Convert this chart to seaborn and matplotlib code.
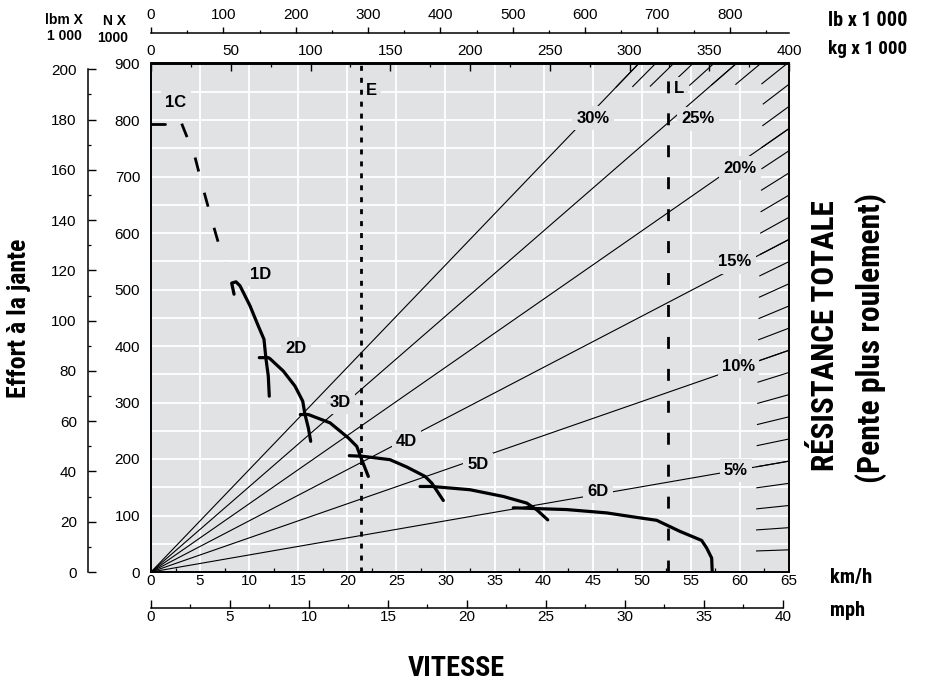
import os
import numpy as np
import pandas as pd
import matplotlib
matplotlib.use("Agg")
import matplotlib.pyplot as plt
from matplotlib.ticker import MultipleLocator
from matplotlib import font_manager
import seaborn as sns

# ---------------- data ----------------
# gear curves: speed in km/h, rimpull effort in kN
speed_1c_tick = [0.0, 1.43]
effort_1c_tick = [793.5, 793.5]
speed_1c = [3.13, 4.48, 5.27, 6.18, 7.10, 7.57]
effort_1c = [793.5, 734.4, 681.2, 623.6, 568.6, 548.0]
speed_1d = [8.46, 8.22, 8.66, 9.07, 10.09, 10.93, 11.51, 11.72, 11.95, 12.05]
effort_1d = [491.7, 511.3, 513.6, 506.5, 471.0, 435.5, 411.9, 376.4, 346.7, 311.2]
speed_2d = [11.03, 11.95, 12.12, 13.48, 14.67, 15.46, 15.69, 16.03, 16.27]
effort_2d = [379.4, 379.4, 377.6, 355.6, 329.0, 302.3, 278.7, 255.1, 231.3]
speed_3d = [15.21, 16.03, 18.24, 20.10, 20.96, 21.47, 22.14]
effort_3d = [278.7, 278.7, 264.0, 237.4, 222.4, 198.8, 169.2]
speed_4d = [20.20, 21.63, 24.35, 26.05, 27.92, 28.60, 29.78]
effort_4d = [205.9, 204.7, 198.8, 185.9, 169.2, 157.5, 126.6]
speed_5d = [27.41, 28.60, 32.50, 35.89, 38.28, 39.30, 40.42]
effort_5d = [151.4, 151.4, 145.6, 133.7, 122.0, 110.1, 92.3]
speed_6d = [36.91, 42.35, 46.43, 49.14, 51.52, 53.89, 56.10, 56.61, 57.12, 57.18]
effort_6d = [113.6, 110.5, 104.6, 97.5, 91.5, 71.9, 55.9, 42.5, 24.7, 0.0]

gear_names = ["1C", "1D", "2D", "3D", "4D", "5D", "6D"]

# total resistance (grade + rolling) lines, percent
grade_labels = [5, 10, 15, 20, 25, 30]
hash_grades = list(range(1, 31))

# marker lines (km/h)
speed_e = 21.35
speed_l = 52.7

# axis ticks
kmh_ticks = list(range(0, 66, 5))
mph_ticks = list(range(0, 41, 5))
kn_ticks = list(range(0, 901, 100))
klbf_ticks = list(range(0, 201, 20))
kg_ticks = list(range(0, 401, 50))
lb_ticks = list(range(0, 801, 100))

# ---------------- style ----------------
sns.set_theme(style="ticks")
names = {f.name for f in font_manager.fontManager.ttflist}
REG = "Liberation Sans" if "Liberation Sans" in names else "DejaVu Sans"
plt.rcParams["font.family"] = [REG, "DejaVu Sans"]
for key in ["text.color", "axes.labelcolor", "xtick.color", "ytick.color",
            "axes.edgecolor"]:
    plt.rcParams[key] = "black"
plt.rcParams["axes.linewidth"] = 1.4


def find_condensed_bold():
    fam_rank = ["liberation sans narrow", "roboto condensed", "open sans condensed",
                "noto sans condensed", "noto sans", "open sans", "roboto",
                "liberation", "dejavu sans condensed", "dejavu sans", "lato", "inter"]
    best = None
    for f in font_manager.fontManager.ttflist:
        nm = f.name.lower()
        st = str(f.stretch).lower()
        fn = os.path.basename(f.fname).lower()
        if "mono" in nm or "serif" in nm and "sans" not in nm:
            continue
        if "italic" in str(f.style).lower() or "oblique" in str(f.style).lower():
            continue
        if "italic" in fn or "oblique" in fn:
            continue
        cond = any(w in s for w in ("condensed", "narrow") for s in (st, nm, fn))
        if not cond:
            continue
        w = f.weight if isinstance(f.weight, (int, float)) else \
            font_manager.weight_dict.get(f.weight, 400)
        if w < 600 or w > 800:
            continue
        if "semi" in st or "semi" in fn or "semi" in nm:
            srank = 1
        elif "extra" in st or "extra" in fn or "ultra" in st:
            srank = 2
        else:
            srank = 0
        frank = len(fam_rank)
        for i, fr in enumerate(fam_rank):
            if fr in nm or fr.replace(" ", "") in fn:
                frank = i
                break
        score = (srank, frank, abs(w - 700))
        if best is None or score < best[0]:
            best = (score, f.fname)
    if best is None:
        return font_manager.FontProperties(family=[REG], weight="bold")
    return font_manager.FontProperties(fname=best[1])


COND = find_condensed_bold()

W, H = 927, 684
L, R, T, B = 151, 789, 63.5, 572
BG = "#e1e2e4"

fig = plt.figure(figsize=(W / 100, H / 100), dpi=100)
ax = fig.add_axes([L / W, 1 - B / H, (R - L) / W, (B - T) / H])
ax.set_facecolor(BG)
ax.set_xlim(0, 65)
ax.set_ylim(0, 900)
ax.set_axisbelow(True)
for s in ax.spines.values():
    s.set_color("black")
    s.set_linewidth(1.4)

ax.set_xticks(kmh_ticks)
ax.xaxis.set_minor_locator(MultipleLocator(2.5))
ax.set_yticks(kn_ticks)
ax.yaxis.set_minor_locator(MultipleLocator(50))
ax.xaxis.grid(True, which="major", color="white", lw=1.3)
ax.yaxis.grid(True, which="both", color="white", lw=1.3)
ax.tick_params(axis="x", which="major", direction="in", length=0, pad=1.5,
               labelsize=11, colors="black")
ax.tick_params(axis="x", which="minor", direction="in", length=3, width=0.9)
ax.tick_params(axis="y", which="both", length=0, pad=7.8, labelsize=11,
               colors="black")

# top kg axis on the plot frame
kmh_to_kg = 400 / 65
sec = ax.secondary_xaxis("top", functions=(lambda v: v * kmh_to_kg,
                                           lambda k: k / kmh_to_kg))
sec.set_xticks(kg_ticks)
sec.xaxis.set_minor_locator(MultipleLocator(25))
sec.tick_params(which="major", direction="in", length=6, width=1.0, pad=3.8,
                labelsize=11, colors="black")
sec.tick_params(which="minor", direction="in", length=3, width=0.9)
sec.spines["top"].set_linewidth(1.4)

# lb axis above
axl = fig.add_axes([L / W, 1 - 33.3 / H, (R - L) / W, 1e-4])
axl.patch.set_visible(False)
axl.set_xlim(0, 400 / 0.45359237)
for k in ["left", "right", "bottom"]:
    axl.spines[k].set_visible(False)
axl.spines["top"].set_linewidth(1.1)
axl.xaxis.tick_top()
axl.set_xticks(lb_ticks)
axl.xaxis.set_minor_locator(MultipleLocator(50))
axl.set_yticks([])
axl.tick_params(axis="x", which="major", direction="out", length=4.5, width=1.0,
                pad=3.3, labelsize=11, colors="black")
axl.tick_params(axis="x", which="minor", direction="out", length=2.3, width=0.9)

# mph axis below
axm = fig.add_axes([L / W, 1 - 608 / H, (R - L) / W, 1e-4])
axm.patch.set_visible(False)
axm.set_xlim(0, 65 / 1.609344)
for k in ["left", "right", "top"]:
    axm.spines[k].set_visible(False)
axm.spines["bottom"].set_bounds(0, 40)
axm.spines["bottom"].set_linewidth(1.1)
axm.set_xticks(mph_ticks)
axm.xaxis.set_minor_locator(MultipleLocator(2.5))
axm.set_yticks([])
axm.tick_params(axis="x", which="major", direction="in", length=6, width=1.0,
                pad=1.5, labelsize=11, colors="black")
axm.tick_params(axis="x", which="minor", direction="in", length=3, width=0.9)

# lbf axis at left
axb = fig.add_axes([88.3 / W, 1 - B / H, 1e-4, (B - T) / H])
axb.patch.set_visible(False)
axb.set_ylim(0, 900 / 4.448222)
for k in ["right", "top", "bottom"]:
    axb.spines[k].set_visible(False)
axb.spines["left"].set_bounds(0, 200)
axb.spines["left"].set_linewidth(1.1)
axb.set_yticks(klbf_ticks)
axb.yaxis.set_minor_locator(MultipleLocator(10))
axb.set_xticks([])
axb.tick_params(axis="y", which="major", direction="in", length=5.8, width=1.0,
                pad=8.3, labelsize=11, colors="black")
axb.tick_params(axis="y", which="minor", direction="in", length=2.5, width=0.9)

# ---------------- resistance lines ----------------
G = 9.81
for g in grade_labels:
    k = g / 100 * G * kmh_to_kg
    v_end = min(65, 900 / k)
    sns.lineplot(x=[0, v_end], y=[0, k * v_end], ax=ax, color="black", lw=0.8,
                 sort=False, estimator=None, zorder=2)

p0 = ax.transData.transform((0, 0))
inv = ax.transData.inverted()
for g in hash_grades:
    k = g / 100 * G * kmh_to_kg
    v_end = min(65, 900 / k)
    p1 = ax.transData.transform((v_end, k * v_end))
    d = (p1 - p0) / np.linalg.norm(p1 - p0)
    va, ea = inv.transform(p1 - d * 33)
    ax.plot([va, v_end], [ea, k * v_end], color="black", lw=0.8, zorder=2,
            solid_capstyle="butt")

# ---------------- gear curves ----------------
curves = pd.concat([
    pd.DataFrame({"speed": speed_1d, "effort": effort_1d, "gear": "1D"}),
    pd.DataFrame({"speed": speed_2d, "effort": effort_2d, "gear": "2D"}),
    pd.DataFrame({"speed": speed_3d, "effort": effort_3d, "gear": "3D"}),
    pd.DataFrame({"speed": speed_4d, "effort": effort_4d, "gear": "4D"}),
    pd.DataFrame({"speed": speed_5d, "effort": effort_5d, "gear": "5D"}),
    pd.DataFrame({"speed": speed_6d, "effort": effort_6d, "gear": "6D"}),
])
for gname, sub in curves.groupby("gear"):
    sns.lineplot(data=sub, x="speed", y="effort", ax=ax, color="black", lw=2.3,
                 sort=False, estimator=None, zorder=3)
sns.lineplot(x=speed_1c_tick, y=effort_1c_tick, ax=ax, color="black", lw=2.0,
             sort=False, estimator=None, zorder=3)
ax.plot(speed_1c, effort_1c, color="black", lw=2.0, ls=(0, (5.2, 7.9)), zorder=3)

# marker lines E and L
ax.plot([speed_e, speed_e], [0, 900], color="black", lw=2.0,
        ls=(0, (1.8, 2.5)), zorder=6)
ax.plot([speed_l, speed_l], [0, 900], color="black", lw=2.0,
        ls=(0, (4.3, 7.2)), zorder=6)
ax.set_xlabel("")
ax.set_ylabel("")

# ---------------- in-plot labels ----------------
box = dict(boxstyle="square,pad=0.25", fc=BG, ec="none")
label_pos = {
    "1C": (2.55, 831), "1D": (11.21, 526.5), "2D": (14.75, 396),
    "3D": (19.31, 299.6), "4D": (26.05, 230.6), "5D": (33.32, 189.4),
    "6D": (45.57, 142.1),
}
for name in gear_names:
    x, y = label_pos[name]
    ax.text(x, y, name, ha="center", va="center", fontsize=12,
            fontweight="bold", color="black", bbox=box, zorder=4)
grade_pos = {30: (45.03, 803.5), 25: (55.73, 801.8), 20: (60.01, 715),
             15: (59.5, 548.7), 10: (59.86, 364.6), 5: (59.6, 179.6)}
for g in grade_labels:
    x, y = grade_pos[g]
    ax.text(x, y, f"{g}%", ha="center", va="center", fontsize=12,
            fontweight="bold", color="black", bbox=box, zorder=4)
ax.text(22.41, 853, "E", ha="center", va="center", fontsize=12,
        fontweight="bold", color="black", bbox=box, zorder=4)
ax.text(53.8, 855, "L", ha="center", va="center", fontsize=12,
        fontweight="bold", color="black", bbox=box, zorder=4)


# ---------------- figure texts ----------------
def ftxt(x, y, s, **kw):
    return fig.text(x / W, 1 - y / H, s, color="black", **kw)


ftxt(64, 20, "lbm X", ha="center", va="center", fontsize=10, fontweight="bold")
ftxt(64.5, 36.5, "1 000", ha="center", va="center", fontsize=10, fontweight="bold")
ftxt(114.5, 21, "N X", ha="center", va="center", fontsize=10, fontweight="bold")
ftxt(113, 38, "1000", ha="center", va="center", fontsize=10, fontweight="bold")

renderer = fig.canvas.get_renderer()


def fit_text(x, y, s, length, ha="center", rotation=0):
    fp = COND.copy()
    fp.set_size(20)
    t = ftxt(x, y, s, ha=ha, va="center", rotation=rotation, fontproperties=fp)
    bb = t.get_window_extent(renderer)
    cur = bb.height if rotation == 90 else bb.width
    t.set_fontsize(20 * length / cur)
    return t


fit_text(828, 21, "lb x 1 000", 79, ha="left")
fit_text(828, 49, "kg x 1 000", 79, ha="left")
fit_text(830, 578, "km/h", 42, ha="left")
fit_text(830, 611, "mph", 35, ha="left")
fit_text(825.5, 336, "RÉSISTANCE TOTALE", 272, rotation=90)
fit_text(871, 338, "(Pente plus roulement)", 290, rotation=90)
fit_text(456.5, 669, "VITESSE", 97)
fit_text(19, 318, "Effort à la jante", 160, rotation=90)

fig.savefig("out.png", dpi=100, facecolor="white")
